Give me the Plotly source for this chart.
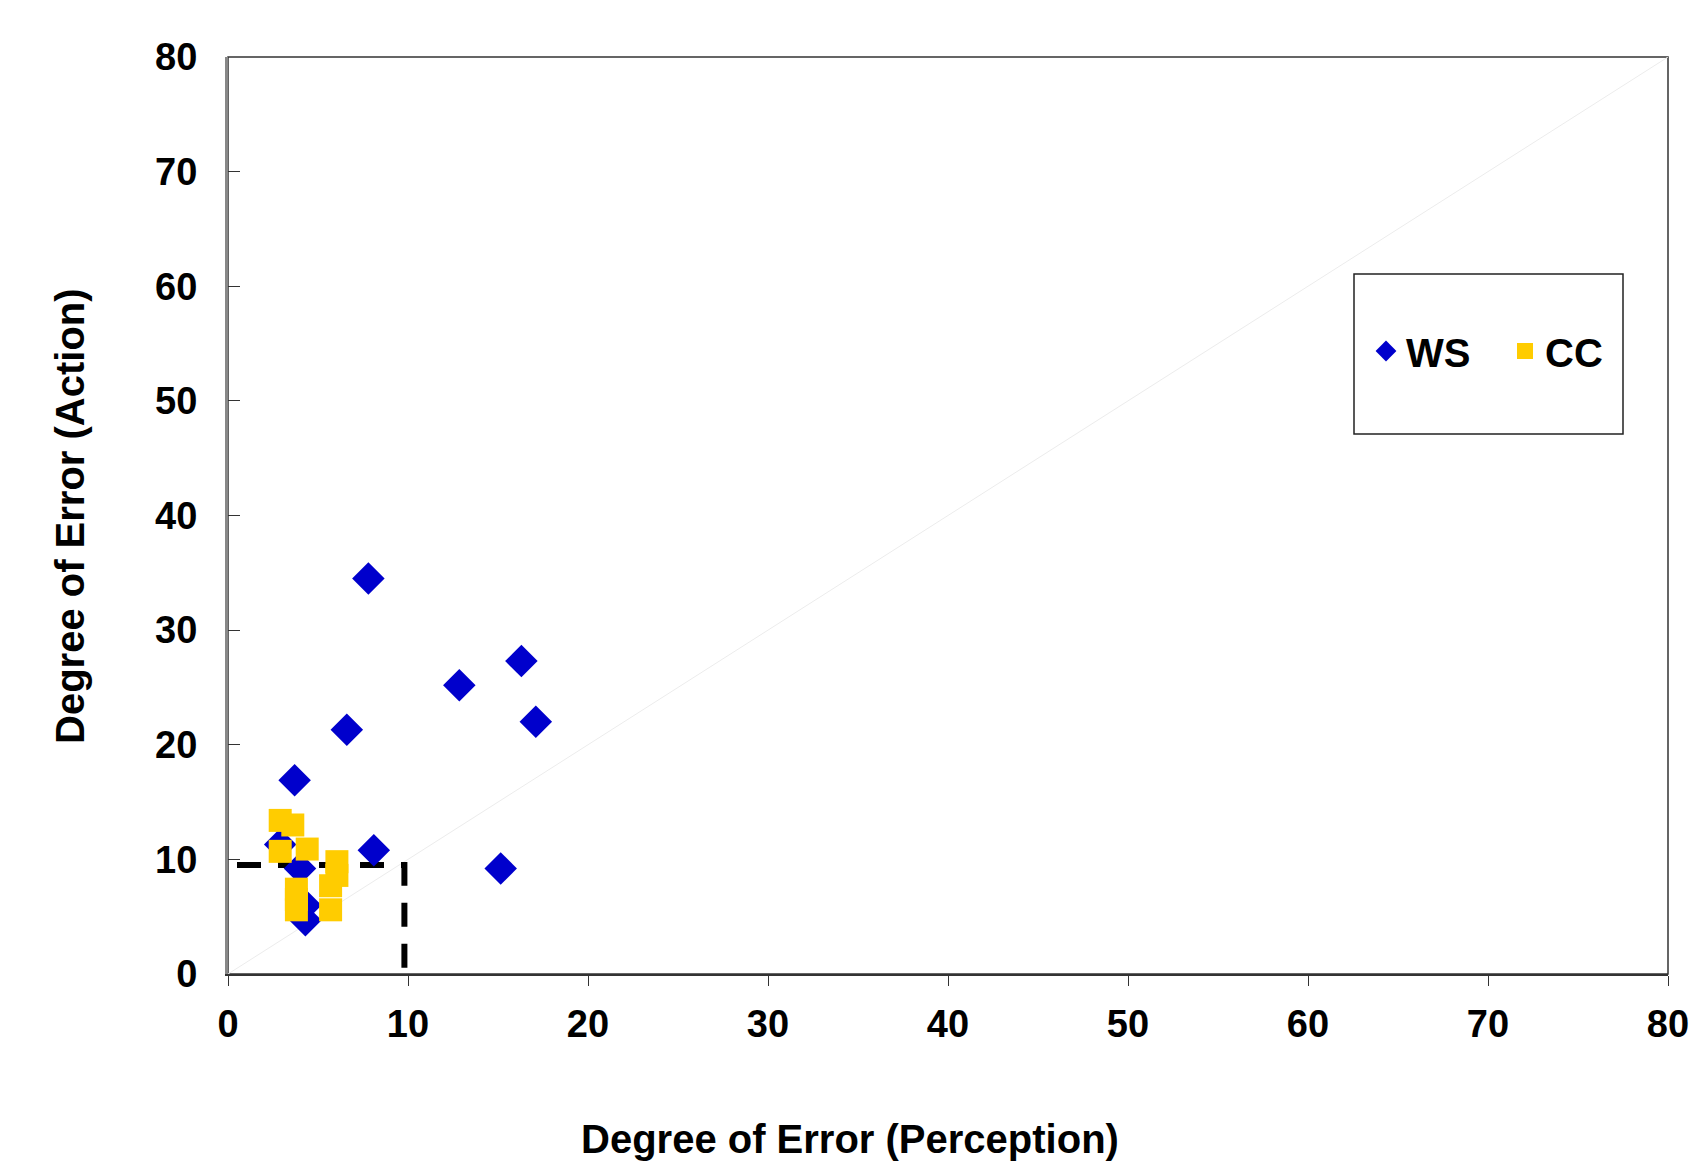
import plotly.graph_objects as go

# ---- data ----
ws_x = [7.8, 16.3, 12.85, 17.1, 6.6, 3.7, 8.1, 15.15, 4.0, 2.9, 4.3, 4.3]
ws_y = [34.5, 27.3, 25.2, 22.0, 21.3, 16.9, 10.8, 9.2, 9.2, 11.3, 6.0, 4.7]

cc_x = [2.9, 3.6, 2.9, 4.4, 6.05, 6.05, 5.7, 5.7, 3.8, 3.8, 3.8]
cc_y = [13.4, 13.0, 10.7, 10.9, 9.8, 8.6, 7.7, 5.6, 7.4, 6.5, 5.6]

threshold_x = [0.5, 9.8, 9.8]
threshold_y = [9.5, 9.5, 0.0]

diag = [0, 80]
tick_vals = [0, 10, 20, 30, 40, 50, 60, 70, 80]

FONT = "Liberation Sans, Arial, Helvetica, sans-serif"

W, H = 1693, 1167
L, R, T, B = 228, 1668, 57, 974


def px(x):
    return (x - L) / (R - L)


def py(y):
    return (B - y) / (B - T)


fig = go.Figure()

fig.add_trace(go.Scatter(
    x=diag, y=diag, mode="lines",
    line=dict(color="#ececec", width=1),
    showlegend=False, hoverinfo="skip"))

fig.add_trace(go.Scatter(
    x=threshold_x, y=threshold_y, mode="lines",
    line=dict(color="black", width=6, dash="24px,17px"),
    showlegend=False, hoverinfo="skip"))

fig.add_trace(go.Scatter(
    x=ws_x, y=ws_y, mode="markers", name="WS",
    marker=dict(symbol="diamond", size=25, color="#0000CC",
                line=dict(width=0))))

fig.add_trace(go.Scatter(
    x=cc_x, y=cc_y, mode="markers", name="CC",
    marker=dict(symbol="square", size=23, color="#FFCC00",
                line=dict(width=0))))

axis_font = dict(family=FONT, size=38, color="black", weight="bold")
title_font = dict(family=FONT, size=40, color="black", weight="bold")

fig.update_layout(
    width=W, height=H,
    margin=dict(l=L, r=W - R, t=T, b=H - B, autoexpand=False),
    paper_bgcolor="white", plot_bgcolor="white",
    font=dict(family=FONT, color="black"),
    xaxis=dict(range=[0, 80], tickvals=tick_vals, ticks="outside",
               ticklen=10, tickwidth=1, tickcolor="#333",
               showgrid=False, zeroline=False, automargin=False,
               showline=True, linecolor="#333", linewidth=2,
               tickfont=axis_font, ticklabelstandoff=5),
    yaxis=dict(range=[0, 80], tickvals=tick_vals, ticks="inside",
               ticklen=12, tickwidth=1, tickcolor="#333",
               showgrid=False, zeroline=False, automargin=False,
               showline=True, linecolor="#888", linewidth=3,
               tickfont=axis_font, ticklabelstandoff=20),
    legend=dict(orientation="h", x=px(1366), y=py(351),
                xanchor="left", yanchor="middle",
                bgcolor="rgba(0,0,0,0)", borderwidth=0,
                entrywidth=94, entrywidthmode="pixels",
                font=dict(family=FONT, size=40, color="black", weight="bold")),
    shapes=[
        dict(type="rect", xref="paper", yref="paper", x0=0, y0=0, x1=1, y1=1,
             line=dict(color="#333", width=1.5), layer="below"),
        dict(type="rect", xref="paper", yref="paper",
             x0=px(1354), x1=px(1623), y0=py(434), y1=py(274),
             line=dict(color="#222", width=1.5), fillcolor="white", layer="below"),
    ],
    annotations=[
        dict(text="Degree of Error (Perception)", xref="paper", yref="paper",
             x=px(850), y=py(1139), xanchor="center", yanchor="middle",
             showarrow=False, font=title_font),
        dict(text="Degree of Error (Action)", xref="paper", yref="paper",
             x=px(70), y=py(516), xanchor="center", yanchor="middle",
             textangle=-90, showarrow=False, font=title_font),
    ],
)

fig.write_html("out.html")
